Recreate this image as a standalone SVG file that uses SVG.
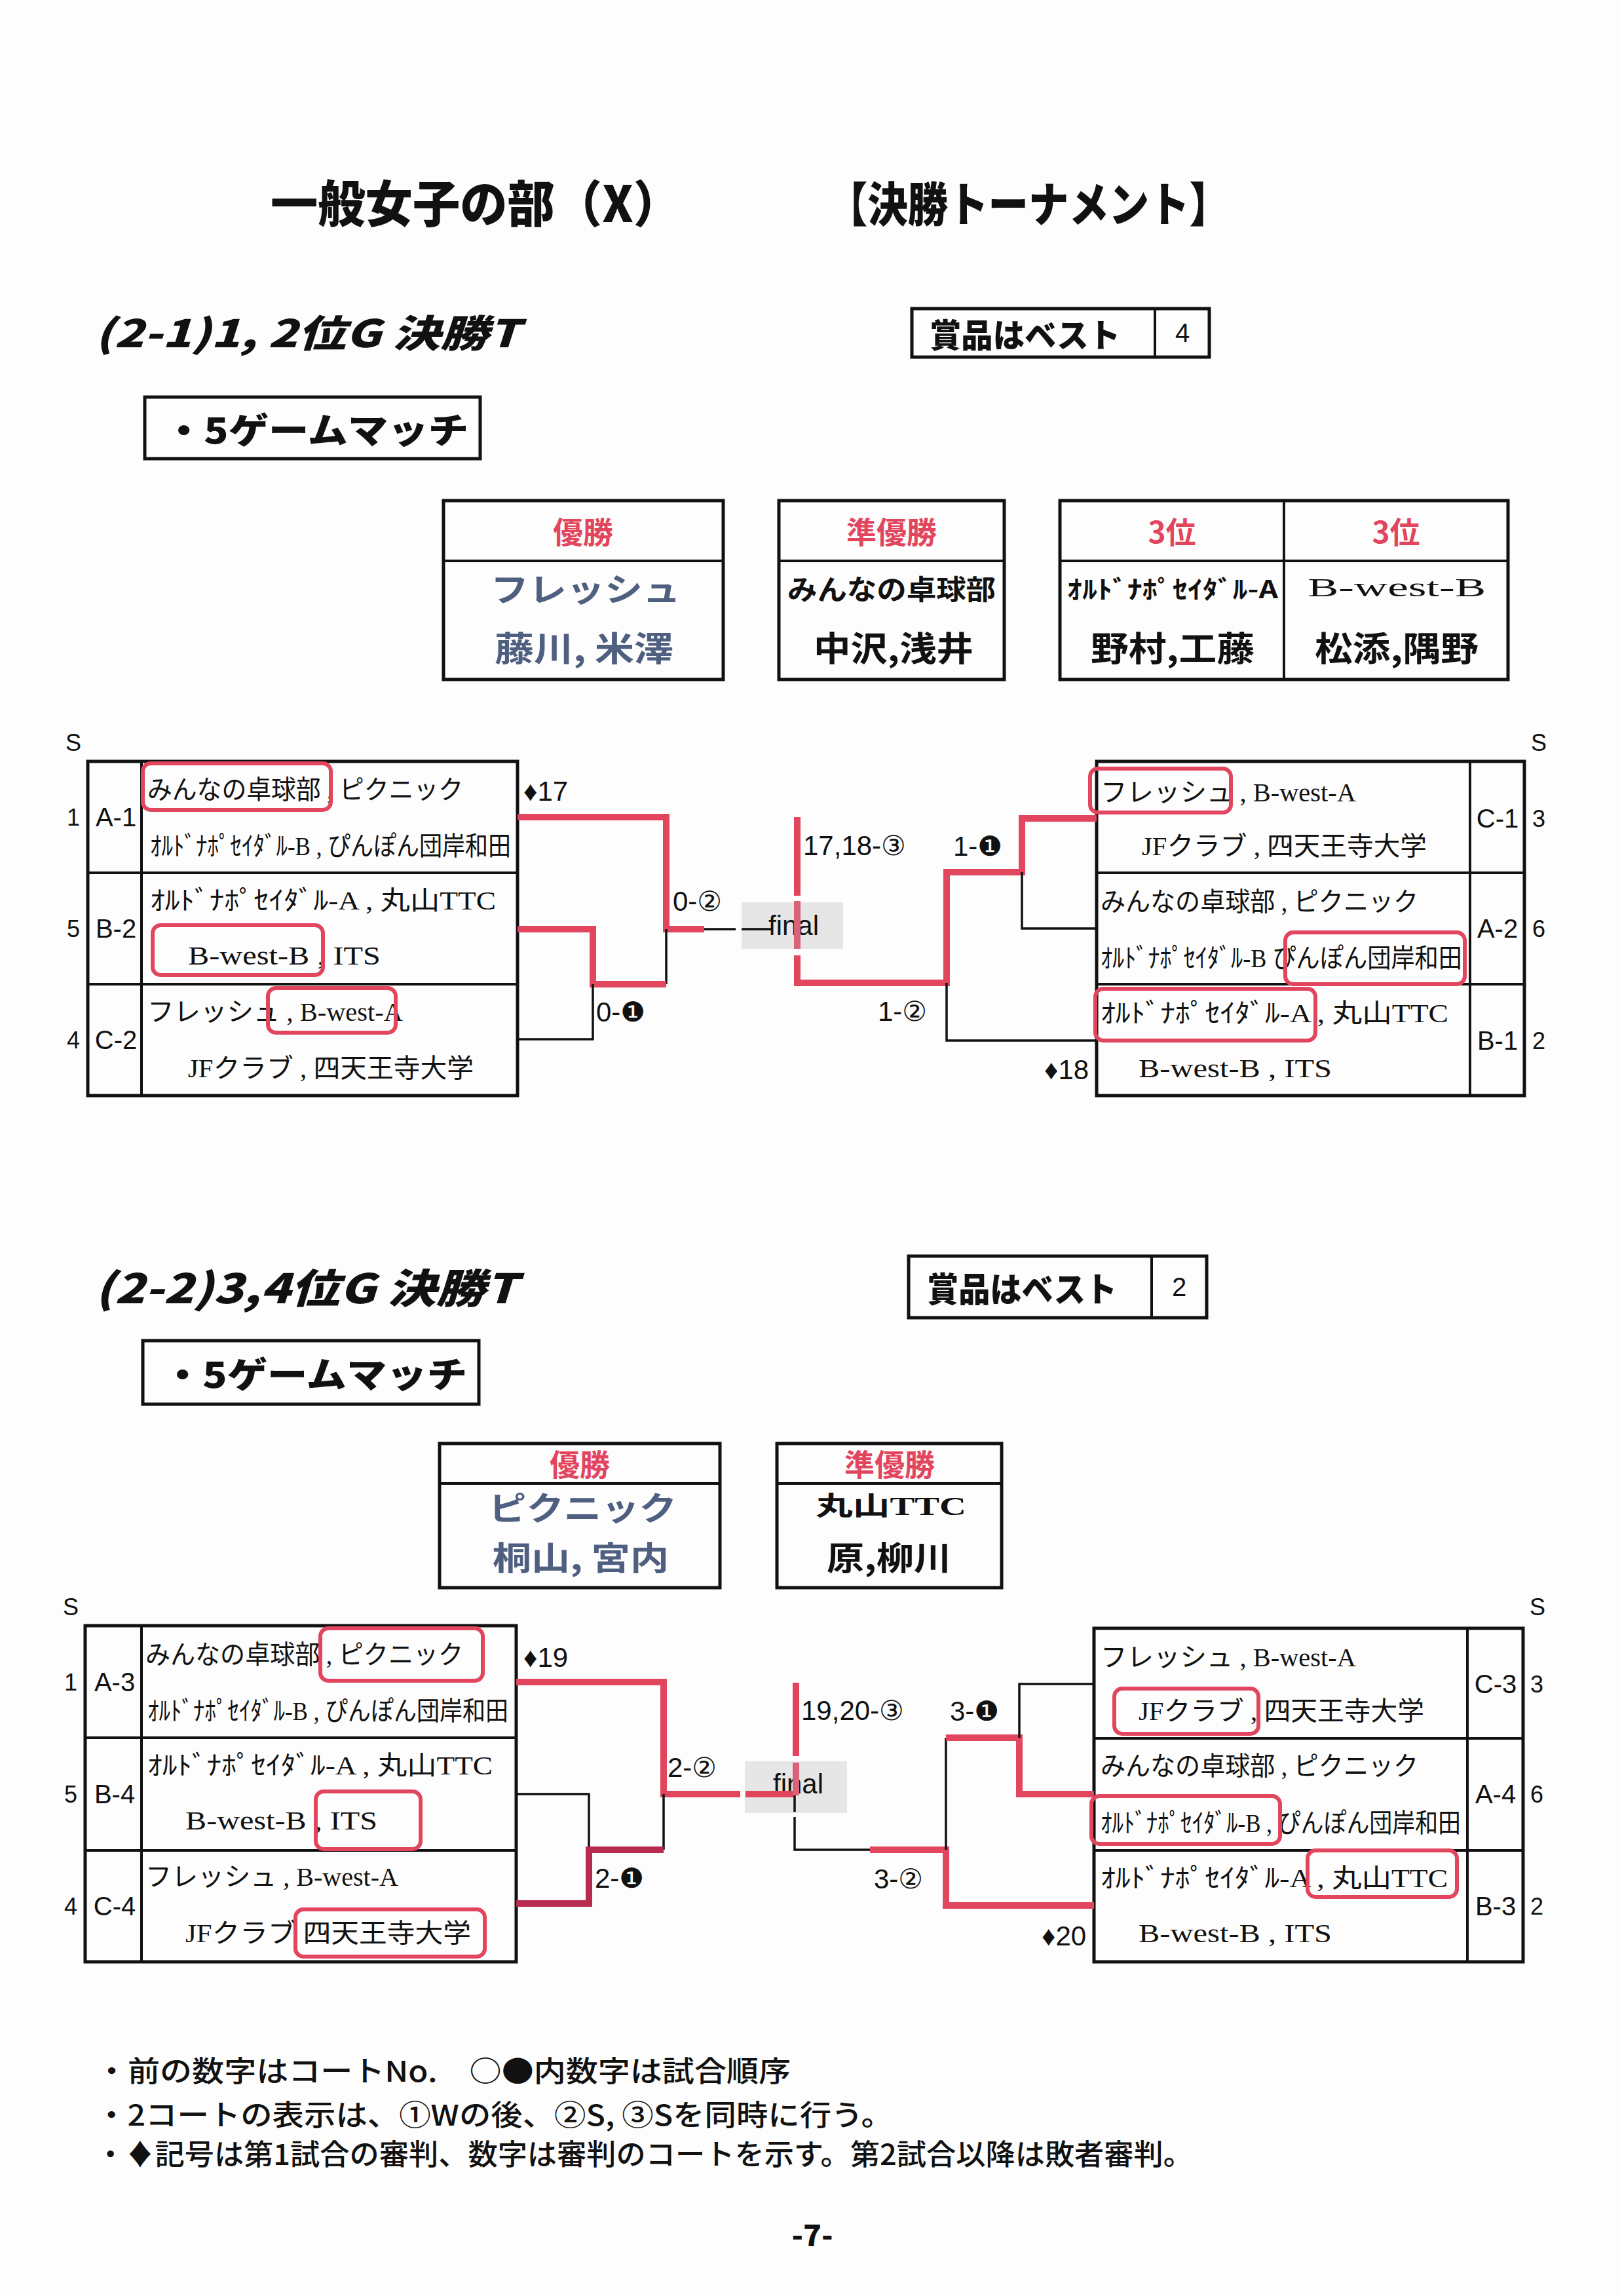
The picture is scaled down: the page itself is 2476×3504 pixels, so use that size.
<svg xmlns="http://www.w3.org/2000/svg" width="2476" height="3504" viewBox="0 0 2476 3504">
<style>
.bg{fill:#fdfdfd}
.frame{fill:none;stroke:#111;stroke-width:5}
.div{fill:none;stroke:#111;stroke-width:4}
.blk{fill:none;stroke:#111;stroke-width:3.5}
.red{fill:none;stroke:#e2455e;stroke-width:10}
.dred{fill:none;stroke:#b82a50;stroke-width:10}
.hl{fill:none;stroke:#e2455e;stroke-width:6}
.gray{fill:#e6e6e6}
.hd{font-family:"Noto Sans CJK JP","Liberation Sans",sans-serif;font-weight:900;fill:#111}
.team{font-family:"Liberation Serif","Noto Sans CJK JP",serif;font-size:40px;fill:#111}
.lab{font-family:"Liberation Sans","Noto Sans CJK JP",sans-serif;font-size:40px;fill:#111}
.num{font-family:"Liberation Sans","Noto Sans CJK JP",sans-serif;font-size:36px;fill:#111}
.sc{font-family:"Liberation Sans","DejaVu Sans","Noto Sans CJK JP",sans-serif;font-size:42px;fill:#111}
.rh{font-family:"Noto Sans CJK JP",sans-serif;font-weight:bold;font-size:46px;fill:#e2455e}
.win{font-family:"Noto Sans CJK JP",sans-serif;font-weight:bold;fill:#4f5f80}
.nm{font-family:"Noto Sans CJK JP",sans-serif;font-weight:bold;fill:#111}
.ft{font-family:"Noto Sans CJK JP",sans-serif;font-size:44px;font-weight:500;fill:#111}
</style>
<rect class="bg" x="0" y="0" width="2476" height="3504"/>

<g id="title">
<text class="hd" x="413" y="306" font-size="76" dominant-baseline="central" textLength="626" lengthAdjust="spacingAndGlyphs">一般女子の部（X）</text>
<text class="hd" x="1263" y="306" font-size="72" dominant-baseline="central" textLength="614" lengthAdjust="spacingAndGlyphs">【決勝トーナメント】</text>
</g>

<g id="heading1">
<text class="hd" x="145" y="505" font-size="58" font-style="italic" dominant-baseline="central" textLength="648" lengthAdjust="spacingAndGlyphs">(2-1)1, 2位G  決勝T</text>
</g>
<g id="prize1">
<rect class="frame" x="1392" y="471" width="454" height="74"/>
<line class="div" x1="1763" y1="471" x2="1763" y2="545"/>
<text class="hd" x="1419" y="508" font-size="50" dominant-baseline="central" textLength="291" lengthAdjust="spacingAndGlyphs">賞品はベスト</text>
<text class="lab" x="1805" y="508" font-size="42" text-anchor="middle" dominant-baseline="central">4</text>
</g>
<g id="match1">
<rect class="frame" x="221" y="606" width="512" height="94"/>
<text class="hd" x="250" y="653" font-size="54" dominant-baseline="central" textLength="465" lengthAdjust="spacingAndGlyphs">・5ゲームマッチ</text>
</g>

<g id="res1-winner">
<rect class="frame" x="677" y="764" width="427" height="273"/>
<line class="div" x1="677" y1="856" x2="1104" y2="856"/>
<text class="rh" x="890" y="809" text-anchor="middle" dominant-baseline="central">優勝</text>
<text class="win" x="749" y="896" font-size="50" dominant-baseline="central" textLength="290" lengthAdjust="spacingAndGlyphs">フレッシュ</text>
<text class="win" x="755" y="986" font-size="52" dominant-baseline="central" textLength="273" lengthAdjust="spacingAndGlyphs">藤川, 米澤</text>
</g>
<g id="res1-runnerup">
<rect class="frame" x="1189" y="764" width="344" height="273"/>
<line class="div" x1="1189" y1="856" x2="1533" y2="856"/>
<text class="rh" x="1361" y="809" text-anchor="middle" dominant-baseline="central">準優勝</text>
<text class="nm" x="1202" y="896" font-size="42" dominant-baseline="central" textLength="318" lengthAdjust="spacingAndGlyphs">みんなの卓球部</text>
<text class="nm" x="1242" y="986" font-size="52" dominant-baseline="central" textLength="244" lengthAdjust="spacingAndGlyphs">中沢,浅井</text>
</g>
<g id="res1-third">
<rect class="frame" x="1618" y="764" width="684" height="273"/>
<line class="div" x1="1618" y1="856" x2="2302" y2="856"/>
<line class="div" x1="1960" y1="764" x2="1960" y2="1037"/>
<text class="rh" x="1789" y="809" text-anchor="middle" dominant-baseline="central">3位</text>
<text class="rh" x="2131" y="809" text-anchor="middle" dominant-baseline="central">3位</text>
<text class="nm" x="1629" y="896" font-size="38" dominant-baseline="central" textLength="322" lengthAdjust="spacingAndGlyphs">ｵﾙﾄﾞﾅﾎﾟｾｲﾀﾞﾙ-A</text>
<text class="team" x="1996" y="896" font-size="60" dominant-baseline="central" textLength="272" lengthAdjust="spacingAndGlyphs">B-west-B</text>
<text class="nm" x="1665" y="986" font-size="52" dominant-baseline="central" textLength="250" lengthAdjust="spacingAndGlyphs">野村,工藤</text>
<text class="nm" x="2007" y="986" font-size="52" dominant-baseline="central" textLength="250" lengthAdjust="spacingAndGlyphs">松添,隅野</text>
</g>

<g id="b1-left">
<text class="num" x="112" y="1133" text-anchor="middle" dominant-baseline="central">S</text>
<rect class="frame" x="134" y="1162" width="656" height="510"/>
<line class="div" x1="216" y1="1162" x2="216" y2="1672"/>
<line class="div" x1="134" y1="1332" x2="790" y2="1332"/>
<line class="div" x1="134" y1="1502" x2="790" y2="1502"/>
</g>
<g id="b1-A1">
<text class="num" x="112" y="1247" text-anchor="middle" dominant-baseline="central">1</text>
<text class="lab" x="177" y="1247" text-anchor="middle" dominant-baseline="central">A-1</text>
<text class="team" x="225" y="1205" dominant-baseline="central" textLength="482" lengthAdjust="spacingAndGlyphs">みんなの卓球部 , ピクニック</text>
<text class="team" x="229" y="1291" font-size="34" dominant-baseline="central" textLength="551" lengthAdjust="spacingAndGlyphs">ｵﾙﾄﾞﾅﾎﾟｾｲﾀﾞﾙ-B , ぴんぽん団岸和田</text>
<rect class="hl" x="218" y="1165" width="287" height="71" rx="12"/>
</g>
<g id="b1-B2">
<text class="num" x="112" y="1417" text-anchor="middle" dominant-baseline="central">5</text>
<text class="lab" x="177" y="1417" text-anchor="middle" dominant-baseline="central">B-2</text>
<text class="team" x="229" y="1374" dominant-baseline="central" textLength="528" lengthAdjust="spacingAndGlyphs">ｵﾙﾄﾞﾅﾎﾟｾｲﾀﾞﾙ-A , 丸山TTC</text>
<text class="team" x="287" y="1458" dominant-baseline="central" textLength="294" lengthAdjust="spacingAndGlyphs">B-west-B , ITS</text>
<rect class="hl" x="233" y="1412" width="260" height="76" rx="12"/>
</g>
<g id="b1-C2">
<text class="num" x="112" y="1587" text-anchor="middle" dominant-baseline="central">4</text>
<text class="lab" x="177" y="1587" text-anchor="middle" dominant-baseline="central">C-2</text>
<text class="team" x="225" y="1544" dominant-baseline="central" textLength="390" lengthAdjust="spacingAndGlyphs">フレッシュ , B-west-A</text>
<text class="team" x="287" y="1630" dominant-baseline="central" textLength="436" lengthAdjust="spacingAndGlyphs">JFクラブ , 四天王寺大学</text>
<rect class="hl" x="409" y="1508" width="195" height="68" rx="12"/>
</g>

<g id="b1-right">
<text class="num" x="2349" y="1133" text-anchor="middle" dominant-baseline="central">S</text>
<rect class="frame" x="1674" y="1162" width="653" height="510"/>
<line class="div" x1="2244" y1="1162" x2="2244" y2="1672"/>
<line class="div" x1="1674" y1="1332" x2="2327" y2="1332"/>
<line class="div" x1="1674" y1="1502" x2="2327" y2="1502"/>
</g>
<g id="b1-C1">
<text class="lab" x="2286" y="1249" text-anchor="middle" dominant-baseline="central">C-1</text>
<text class="num" x="2349" y="1249" text-anchor="middle" dominant-baseline="central">3</text>
<text class="team" x="1680" y="1209" dominant-baseline="central" textLength="390" lengthAdjust="spacingAndGlyphs">フレッシュ , B-west-A</text>
<text class="team" x="1743" y="1291" dominant-baseline="central" textLength="435" lengthAdjust="spacingAndGlyphs">JFクラブ , 四天王寺大学</text>
<rect class="hl" x="1664" y="1173" width="215" height="67" rx="12"/>
</g>
<g id="b1-A2">
<text class="lab" x="2286" y="1417" text-anchor="middle" dominant-baseline="central">A-2</text>
<text class="num" x="2349" y="1417" text-anchor="middle" dominant-baseline="central">6</text>
<text class="team" x="1680" y="1376" dominant-baseline="central" textLength="485" lengthAdjust="spacingAndGlyphs">みんなの卓球部 , ピクニック</text>
<text class="team" x="1680" y="1462" font-size="34" dominant-baseline="central" textLength="552" lengthAdjust="spacingAndGlyphs">ｵﾙﾄﾞﾅﾎﾟｾｲﾀﾞﾙ-B  ぴんぽん団岸和田</text>
<rect class="hl" x="1962" y="1423" width="274" height="79" rx="12"/>
</g>
<g id="b1-B1">
<text class="lab" x="2286" y="1588" text-anchor="middle" dominant-baseline="central">B-1</text>
<text class="num" x="2349" y="1588" text-anchor="middle" dominant-baseline="central">2</text>
<text class="team" x="1680" y="1546" dominant-baseline="central" textLength="531" lengthAdjust="spacingAndGlyphs">ｵﾙﾄﾞﾅﾎﾟｾｲﾀﾞﾙ-A , 丸山TTC</text>
<text class="team" x="1738" y="1630" dominant-baseline="central" textLength="295" lengthAdjust="spacingAndGlyphs">B-west-B , ITS</text>
<rect class="hl" x="1672" y="1509" width="336" height="79" rx="12"/>
</g>

<g id="b1-final">
<rect class="gray" x="1132" y="1377" width="155" height="71"/>
<text class="sc" x="1173" y="1427" font-size="38">final</text>
</g>

<g id="connectors1">
<path class="red" d="M790,1247 H1017 V1418 H1075"/>
<path class="blk" d="M1075,1418 H1123 M1132,1418 H1177"/>
<path class="blk" d="M1017,1418 V1502"/>
<path class="red" d="M790,1418 H905 V1502 H1017"/>
<path class="blk" d="M790,1586 H905 V1502"/>
<path class="red" d="M1217,1247 V1367"/>
<path d="M1217,1375 V1448" fill="none" stroke="#d9637a" stroke-width="10"/>
<path class="red" d="M1217,1458 V1500 H1445 V1331 H1560 V1249 H1674"/>
<path class="blk" d="M1445,1500 V1588 H1674"/>
<path class="blk" d="M1560,1331 V1417 H1674"/>
<text class="sc" x="799" y="1207" dominant-baseline="central">♦17</text>
<text class="sc" x="1027" y="1375" dominant-baseline="central">0-②</text>
<text class="sc" x="910" y="1544" dominant-baseline="central">0-❶</text>
<text class="sc" x="1226" y="1290" dominant-baseline="central">17,18-③</text>
<text class="sc" x="1455" y="1291" dominant-baseline="central">1-❶</text>
<text class="sc" x="1340" y="1543" dominant-baseline="central">1-②</text>
<text class="sc" x="1594" y="1632" dominant-baseline="central">♦18</text>
</g>

<g id="heading2">
<text class="hd" x="145" y="1962" font-size="62" font-style="italic" dominant-baseline="central" textLength="644" lengthAdjust="spacingAndGlyphs">(2-2)3,4位G  決勝T</text>
</g>
<g id="prize2">
<rect class="frame" x="1387" y="1917" width="455" height="94"/>
<line class="div" x1="1758" y1="1917" x2="1758" y2="2011"/>
<text class="hd" x="1415" y="1964" font-size="52" dominant-baseline="central" textLength="290" lengthAdjust="spacingAndGlyphs">賞品はベスト</text>
<text class="lab" x="1800" y="1964" font-size="44" text-anchor="middle" dominant-baseline="central">2</text>
</g>
<g id="match2">
<rect class="frame" x="218" y="2046" width="513" height="97"/>
<text class="hd" x="248" y="2094" font-size="54" dominant-baseline="central" textLength="465" lengthAdjust="spacingAndGlyphs">・5ゲームマッチ</text>
</g>

<g id="res2-winner">
<rect class="frame" x="671" y="2203" width="428" height="220"/>
<line class="div" x1="671" y1="2264" x2="1099" y2="2264"/>
<text class="rh" x="885" y="2232" font-size="42" text-anchor="middle" dominant-baseline="central">優勝</text>
<text class="win" x="746" y="2298" font-size="50" dominant-baseline="central" textLength="287" lengthAdjust="spacingAndGlyphs">ピクニック</text>
<text class="win" x="752" y="2374" font-size="50" dominant-baseline="central" textLength="269" lengthAdjust="spacingAndGlyphs">桐山, 宮内</text>
</g>
<g id="res2-runnerup">
<rect class="frame" x="1186" y="2203" width="343" height="220"/>
<line class="div" x1="1186" y1="2264" x2="1529" y2="2264"/>
<text class="rh" x="1358" y="2232" font-size="42" text-anchor="middle" dominant-baseline="central">準優勝</text>
<text class="team" x="1245" y="2298" font-size="56" font-weight="bold" dominant-baseline="central" textLength="230" lengthAdjust="spacingAndGlyphs">丸山TTC</text>
<text class="nm" x="1262" y="2374" font-size="50" dominant-baseline="central" textLength="190" lengthAdjust="spacingAndGlyphs">原,柳川</text>
</g>

<g id="b2-left">
<text class="num" x="108" y="2452" text-anchor="middle" dominant-baseline="central">S</text>
<rect class="frame" x="130" y="2481" width="658" height="513"/>
<line class="div" x1="216" y1="2481" x2="216" y2="2994"/>
<line class="div" x1="130" y1="2652" x2="788" y2="2652"/>
<line class="div" x1="130" y1="2824" x2="788" y2="2824"/>
</g>
<g id="b2-A3">
<text class="num" x="108" y="2567" text-anchor="middle" dominant-baseline="central">1</text>
<text class="lab" x="175" y="2567" text-anchor="middle" dominant-baseline="central">A-3</text>
<text class="team" x="222" y="2525" dominant-baseline="central" textLength="485" lengthAdjust="spacingAndGlyphs">みんなの卓球部 , ピクニック</text>
<text class="team" x="225" y="2611" font-size="34" dominant-baseline="central" textLength="551" lengthAdjust="spacingAndGlyphs">ｵﾙﾄﾞﾅﾎﾟｾｲﾀﾞﾙ-B , ぴんぽん団岸和田</text>
<rect class="hl" x="489" y="2485" width="248" height="80" rx="12"/>
</g>
<g id="b2-B4">
<text class="num" x="108" y="2738" text-anchor="middle" dominant-baseline="central">5</text>
<text class="lab" x="175" y="2738" text-anchor="middle" dominant-baseline="central">B-4</text>
<text class="team" x="225" y="2694" dominant-baseline="central" textLength="527" lengthAdjust="spacingAndGlyphs">ｵﾙﾄﾞﾅﾎﾟｾｲﾀﾞﾙ-A , 丸山TTC</text>
<text class="team" x="283" y="2778" dominant-baseline="central" textLength="293" lengthAdjust="spacingAndGlyphs">B-west-B , ITS</text>
<rect class="hl" x="482" y="2734" width="160" height="88" rx="12"/>
</g>
<g id="b2-C4">
<text class="num" x="108" y="2909" text-anchor="middle" dominant-baseline="central">4</text>
<text class="lab" x="175" y="2909" text-anchor="middle" dominant-baseline="central">C-4</text>
<text class="team" x="222" y="2864" dominant-baseline="central" textLength="386" lengthAdjust="spacingAndGlyphs">フレッシュ , B-west-A</text>
<text class="team" x="283" y="2950" dominant-baseline="central" textLength="436" lengthAdjust="spacingAndGlyphs">JFクラブ  四天王寺大学</text>
<rect class="hl" x="451" y="2914" width="289" height="72" rx="12"/>
</g>

<g id="b2-right">
<text class="num" x="2347" y="2452" text-anchor="middle" dominant-baseline="central">S</text>
<rect class="frame" x="1670" y="2485" width="655" height="509"/>
<line class="div" x1="2240" y1="2485" x2="2240" y2="2994"/>
<line class="div" x1="1670" y1="2653" x2="2325" y2="2653"/>
<line class="div" x1="1670" y1="2824" x2="2325" y2="2824"/>
</g>
<g id="b2-C3">
<text class="lab" x="2283" y="2570" text-anchor="middle" dominant-baseline="central">C-3</text>
<text class="num" x="2346" y="2570" text-anchor="middle" dominant-baseline="central">3</text>
<text class="team" x="1680" y="2529" dominant-baseline="central" textLength="390" lengthAdjust="spacingAndGlyphs">フレッシュ , B-west-A</text>
<text class="team" x="1738" y="2611" dominant-baseline="central" textLength="436" lengthAdjust="spacingAndGlyphs">JFクラブ , 四天王寺大学</text>
<rect class="hl" x="1701" y="2577" width="220" height="69" rx="12"/>
</g>
<g id="b2-A4">
<text class="lab" x="2283" y="2738" text-anchor="middle" dominant-baseline="central">A-4</text>
<text class="num" x="2346" y="2738" text-anchor="middle" dominant-baseline="central">6</text>
<text class="team" x="1680" y="2695" dominant-baseline="central" textLength="485" lengthAdjust="spacingAndGlyphs">みんなの卓球部 , ピクニック</text>
<text class="team" x="1680" y="2782" font-size="34" dominant-baseline="central" textLength="550" lengthAdjust="spacingAndGlyphs">ｵﾙﾄﾞﾅﾎﾟｾｲﾀﾞﾙ-B , ぴんぽん団岸和田</text>
<rect class="hl" x="1666" y="2741" width="288" height="73" rx="12"/>
</g>
<g id="b2-B3">
<text class="lab" x="2283" y="2909" text-anchor="middle" dominant-baseline="central">B-3</text>
<text class="num" x="2346" y="2909" text-anchor="middle" dominant-baseline="central">2</text>
<text class="team" x="1680" y="2866" dominant-baseline="central" textLength="530" lengthAdjust="spacingAndGlyphs">ｵﾙﾄﾞﾅﾎﾟｾｲﾀﾞﾙ-A , 丸山TTC</text>
<text class="team" x="1738" y="2950" dominant-baseline="central" textLength="295" lengthAdjust="spacingAndGlyphs">B-west-B , ITS</text>
<rect class="hl" x="1996" y="2824" width="228" height="71" rx="12"/>
</g>

<g id="b2-final">
<rect class="gray" x="1137" y="2688" width="156" height="79"/>
<text class="sc" x="1180" y="2737" font-size="38">final</text>
</g>

<g id="connectors2">
<path class="red" d="M788,2567 H1013 V2738 H1130"/>
<path class="red" d="M1138,2738 H1213"/>
<path class="blk" d="M788,2738 H899 V2823"/>
<path class="blk" d="M1013,2738 V2823"/>
<path class="dred" d="M788,2905 H899 V2823 H1013"/>
<path class="red" d="M1215,2568 V2680"/>
<path d="M1215,2690 V2740" fill="none" stroke="#d9637a" stroke-width="10"/>
<path class="blk" d="M1213,2740 V2765 M1213,2773 V2823 H1328"/>
<path class="red" d="M1328,2823 H1444 V2908 H1670"/>
<path class="blk" d="M1444,2823 V2652"/>
<path class="red" d="M1444,2652 H1556 V2738 H1670"/>
<path class="blk" d="M1556,2652 V2570 H1670"/>
<text class="sc" x="799" y="2529" dominant-baseline="central">♦19</text>
<text class="sc" x="1019" y="2697" dominant-baseline="central">2-②</text>
<text class="sc" x="908" y="2866" dominant-baseline="central">2-❶</text>
<text class="sc" x="1223" y="2610" dominant-baseline="central">19,20-③</text>
<text class="sc" x="1450" y="2611" dominant-baseline="central">3-❶</text>
<text class="sc" x="1334" y="2867" dominant-baseline="central">3-②</text>
<text class="sc" x="1590" y="2954" dominant-baseline="central">♦20</text>
</g>

<g id="footer">
<text class="ft" x="146" y="3158" dominant-baseline="central" textLength="1061" lengthAdjust="spacingAndGlyphs">・前の数字はコートNo.　○●内数字は試合順序</text>
<text class="ft" x="146" y="3225" dominant-baseline="central" textLength="1217" lengthAdjust="spacingAndGlyphs">・2コートの表示は、①Wの後、②S, ③Sを同時に行う。</text>
<text class="ft" x="146" y="3285" dominant-baseline="central" textLength="1675" lengthAdjust="spacingAndGlyphs">・♦記号は第1試合の審判、数字は審判のコートを示す。第2試合以降は敗者審判。</text>
<text class="hd" x="1240" y="3408" font-size="46" text-anchor="middle" dominant-baseline="central">-7-</text>
</g>
</svg>
